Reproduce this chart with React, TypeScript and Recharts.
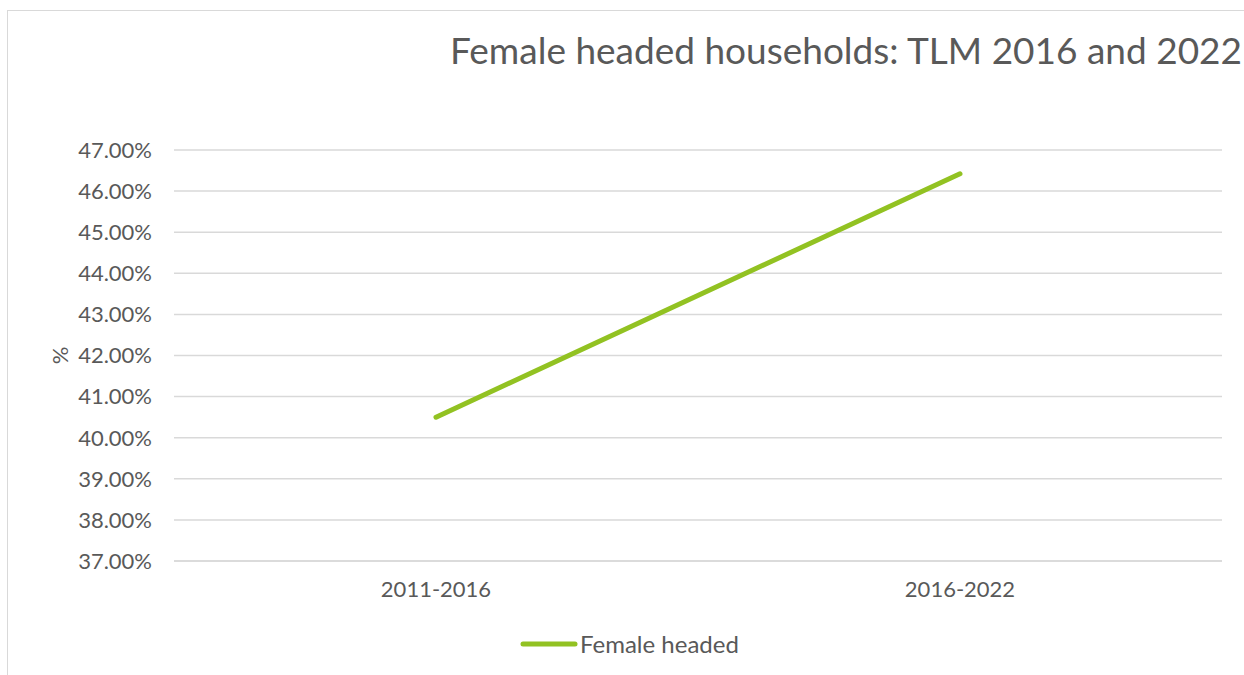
import { LineChart, Line, XAxis, YAxis, CartesianGrid } from "recharts";

const periods = ["2011-2016", "2016-2022"];
const femaleHeaded = [0.405, 0.4642];
const yTicks = [0.37, 0.38, 0.39, 0.4, 0.41, 0.42, 0.43, 0.44, 0.45, 0.46, 0.47];

const data = periods.map((period, i) => ({ period, female: femaleHeaded[i] }));

const FONT = "Lato, 'DejaVu Sans', sans-serif";
const TEXT = "#595959";
const GREEN = "#92C222";

const renderYLabel = ({ viewBox }: any) => {
  const x = viewBox.x + 51;
  const y = viewBox.y + viewBox.height / 2;
  return (
    <text
      x={x}
      y={y}
      transform={`rotate(-90 ${x} ${y})`}
      textAnchor="middle"
      dominantBaseline="central"
      fill={TEXT}
      fontSize={22}
      fontFamily={FONT}
    >
      %
    </text>
  );
};

export default function App() {
  return (
    <div style={{ position: "fixed", left: 0, top: 0, width: 1244, height: 675, overflow: "hidden", background: "#fff" }}>
      <div
        style={{
          position: "absolute",
          left: 7,
          top: 10,
          width: 1260,
          height: 700,
          border: "1px solid #d9d9d9",
          boxSizing: "content-box",
        }}
      >
        <div
          style={{
            position: "absolute",
            left: 442,
            top: 18,
            fontFamily: FONT,
            fontSize: 37,
            color: TEXT,
            whiteSpace: "nowrap",
            lineHeight: "42px",
          }}
        >
          Female headed households: TLM 2016 and 2022
        </div>
        <LineChart width={1260} height={700} data={data} margin={{ top: 139, right: 46, bottom: 110, left: 0 }}>
          <CartesianGrid vertical={false} stroke="#d9d9d9" strokeWidth={1.5} />
          <XAxis
            dataKey="period"
            scale="band"
            axisLine={{ stroke: "#d9d9d9", strokeWidth: 1.5 }}
            tickLine={false}
            tickSize={0}
            tickMargin={20}
            height={40}
            tick={{ fill: TEXT, fontSize: 22, fontFamily: FONT }}
          />
          <YAxis
            domain={[0.37, 0.47]}
            ticks={yTicks}
            width={166}
            axisLine={false}
            tickLine={false}
            tickSize={0}
            tickMargin={22}
            interval={0}
            tickFormatter={(v: number) => (v * 100).toFixed(2) + "%"}
            tick={{ fill: TEXT, fontSize: 22, fontFamily: FONT }}
            label={{ content: renderYLabel }}
          />
          <Line
            type="linear"
            dataKey="female"
            name="Female headed"
            stroke={GREEN}
            strokeWidth={5}
            strokeLinecap="round"
            dot={false}
            activeDot={false}
            isAnimationActive={false}
          />
        </LineChart>
        <div
          style={{
            position: "absolute",
            left: 512,
            top: 618,
            display: "flex",
            alignItems: "center",
            fontFamily: FONT,
          }}
        >
          <svg width={58} height={8}>
            <line x1={3} y1={4} x2={55} y2={4} stroke={GREEN} strokeWidth={5} strokeLinecap="round" />
          </svg>
          <span style={{ fontSize: 24, color: TEXT, marginLeft: 2 }}>Female headed</span>
        </div>
      </div>
    </div>
  );
}
